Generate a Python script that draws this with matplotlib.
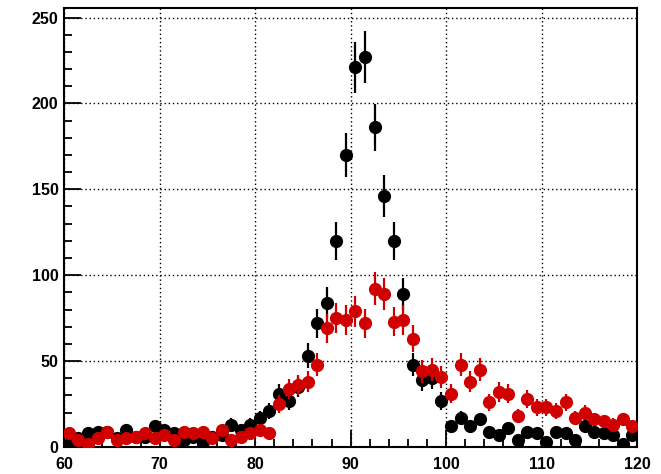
import numpy as np
import matplotlib
matplotlib.use('Agg')
import matplotlib.pyplot as plt
from matplotlib.ticker import MultipleLocator

# Histogram contents, 1 GeV bins from 60 to 120 ###############################
bin_lo = 60
bin_hi = 120
black_counts = [2, 5, 8, 9, 9, 5, 10, 6, 6, 12,
                10, 8, 4, 6, 3, 6, 7, 13, 10, 13,
                17, 21, 31, 27, 35, 53, 72, 84, 120, 170,
                221, 227, 186, 146, 120, 89, 48, 39, 40, 27,
                12, 17, 12, 16, 9, 7, 11, 4, 9, 8,
                3, 9, 8, 4, 12, 9, 8, 7, 2, 7]
red_counts = [8, 4, 2, 5, 9, 4, 5, 6, 8, 5,
              7, 4, 9, 8, 9, 5, 10, 4, 6, 8,
              10, 8, 25, 34, 36, 38, 48, 69, 75, 74,
              79, 72, 92, 89, 73, 74, 63, 44, 45, 41,
              31, 48, 38, 45, 26, 32, 31, 18, 28, 23,
              23, 21, 26, 17, 20, 16, 15, 13, 16, 12]
x_ticks = [60, 70, 80, 90, 100, 110, 120]
y_ticks = [0, 50, 100, 150, 200, 250]

centres = np.arange(bin_lo, bin_hi) + 0.5
black = np.array(black_counts, dtype=float)
red = np.array(red_counts, dtype=float)

fig = plt.figure(figsize=(6.61, 4.74), dpi=100)
ax = fig.add_axes([0.097, 0.057, 0.867, 0.926])

# Poisson error bars, ROOT style markers
ax.errorbar(centres, black, yerr=np.sqrt(black), fmt='o', color='black',
            ms=8.5, elinewidth=1.6, capsize=0, zorder=3)
ax.errorbar(centres, red, yerr=np.sqrt(red), fmt='o', color='#d00000',
            ms=8.5, elinewidth=1.6, capsize=0, zorder=4)

ax.set_xlim(bin_lo, bin_hi)
ax.set_ylim(0, 255.5)
ax.set_xticks(x_ticks)
ax.set_yticks(y_ticks)
ax.xaxis.set_minor_locator(MultipleLocator(2))
ax.yaxis.set_minor_locator(MultipleLocator(10))
ax.grid(True, which='major', color='black', ls=(0, (1, 2)), lw=1.0)
ax.set_axisbelow(True)

ax.tick_params(which='both', direction='in', top=False, right=False,
               width=1.3, labelsize=11.5)
ax.tick_params(axis='x', pad=7)
ax.tick_params(axis='y', pad=4)
ax.tick_params(which='major', length=12)
ax.tick_params(which='minor', length=6)
for lab in ax.get_xticklabels() + ax.get_yticklabels():
    lab.set_fontfamily('Liberation Sans')
    lab.set_fontweight('bold')
for sp in ax.spines.values():
    sp.set_linewidth(1.5)

fig.savefig('out.png', dpi=100)
